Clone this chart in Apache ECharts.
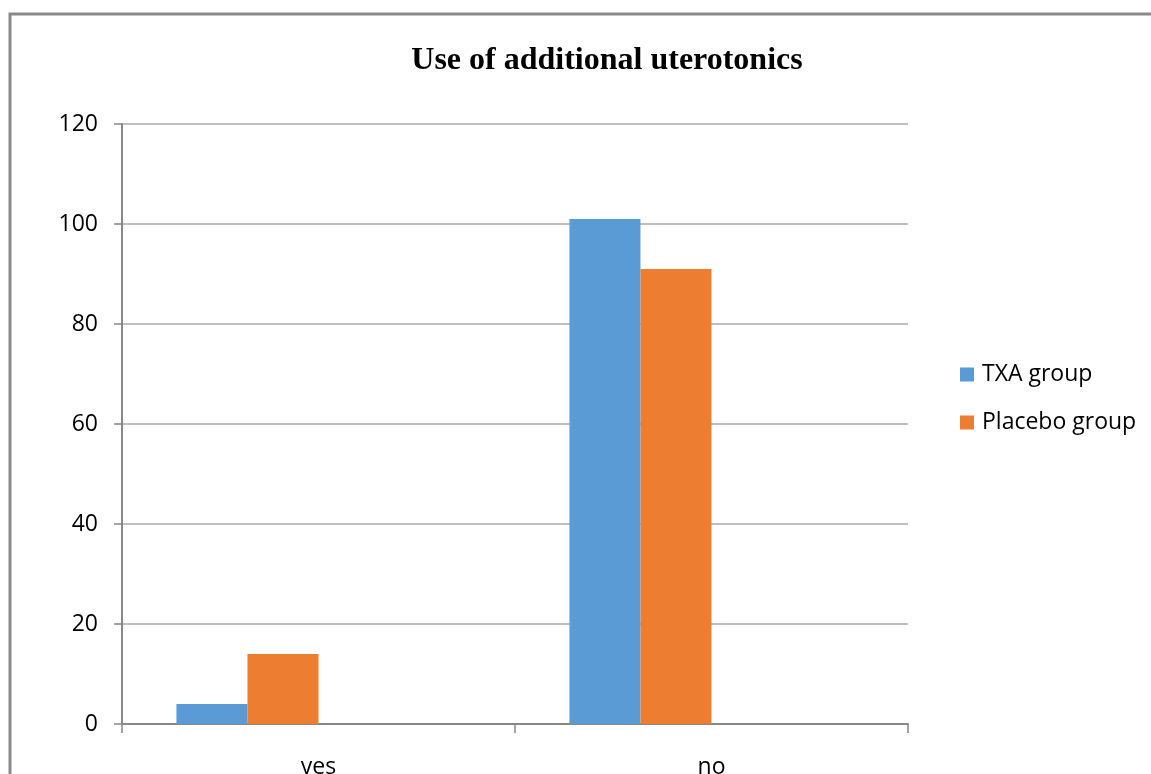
<!DOCTYPE html>
<html>
<head>
<meta charset="utf-8">
<script src="https://cdn.jsdelivr.net/npm/echarts@6/dist/echarts.min.js"></script>
<style>
  html, body { margin: 0; padding: 0; background: #fff; }
  #chart { width: 1151px; height: 774px; }
</style>
</head>
<body>
<div id="chart"></div>
<script>
// Responses per group
const categories = ['yes', 'no'];
const txaGroup = [4, 101];
const placeboGroup = [14, 91];
const yTicks = { min: 0, max: 120, interval: 20 };

const chart = echarts.init(document.getElementById('chart'));

const labelFont = '"Open Sans", "Liberation Sans", sans-serif';

chart.setOption({
  animation: false,
  backgroundColor: '#fff',
  title: {
    text: 'Use of additional uterotonics',
    left: 602,
    textAlign: 'center',
    top: 40,
    textStyle: {
      fontFamily: '"Liberation Serif", "Times New Roman", serif',
      fontWeight: 'bold',
      fontSize: 32,
      color: '#000'
    }
  },
  legend: {
    orient: 'vertical',
    left: 955,
    top: 358,
    itemWidth: 14,
    itemHeight: 14,
    itemGap: 25,
    icon: 'rect',
    data: ['TXA group', 'Placebo group'],
    textStyle: { fontFamily: labelFont, fontSize: 23, color: '#000', padding: [0, 0, 0, 3] }
  },
  grid: {
    left: 122, right: 243, top: 124, bottom: 50,
    containLabel: false, outerBoundsMode: 'none'
  },
  xAxis: {
    type: 'category',
    data: categories,
    axisLine: { lineStyle: { color: '#888', width: 2 } },
    axisTick: { show: true, length: 9, lineStyle: { color: '#888', width: 1.5 } },
    axisLabel: { fontFamily: labelFont, fontSize: 23, color: '#000', margin: 32 }
  },
  yAxis: {
    type: 'value',
    min: yTicks.min,
    max: yTicks.max,
    interval: yTicks.interval,
    axisLine: { show: true, lineStyle: { color: '#888', width: 2 } },
    axisTick: { show: true, length: 8, lineStyle: { color: '#888', width: 1.5 } },
    splitLine: { lineStyle: { color: '#aaa', width: 1.5 } },
    axisLabel: { fontFamily: labelFont, fontSize: 23, color: '#000', margin: 24 }
  },
  series: [
    {
      name: 'TXA group', type: 'bar', data: txaGroup,
      barGap: 0, barCategoryGap: '27.7%',
      itemStyle: { color: '#5B9BD5' }
    },
    {
      name: 'Placebo group', type: 'bar', data: placeboGroup,
      itemStyle: { color: '#ED7D31' }
    },
    // two unused series slots that keep the bar group offset within each category
    { name: 'series3', type: 'bar', data: [null, null] },
    { name: 'series4', type: 'bar', data: [null, null] }
  ],
  graphic: [
    {
      type: 'polyline',
      shape: { points: [[10, 774], [10, 14], [1151, 14]] },
      style: { stroke: '#8a8a8a', lineWidth: 3, fill: null }
    }
  ]
});
</script>
</body>
</html>
